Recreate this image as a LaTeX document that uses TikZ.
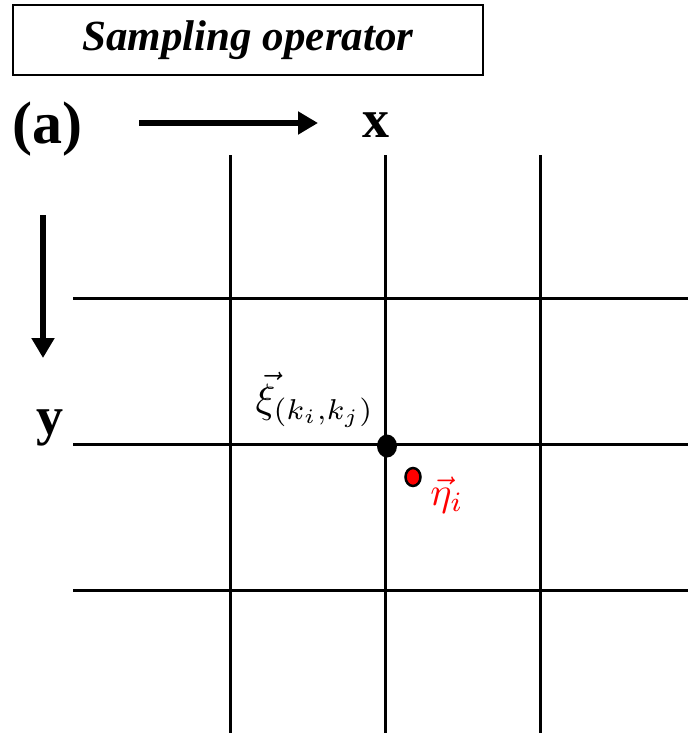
\documentclass[tikz,border=0pt]{standalone}
\usepackage{fontspec}
\setmainfont{Liberation Serif}
\usepackage{amsmath}
\usepackage{graphicx}
\usetikzlibrary{arrows.meta,shapes.geometric}
\begin{document}
\begin{tikzpicture}[x=1pt,y=-1pt,
  gridline/.style={line width=3pt},
  axisarrow/.style={line width=6pt,-{Triangle[length=20pt,width=22pt]}},
  boldlabel/.style={font=\fontsize{54}{54}\selectfont\bfseries,inner sep=0pt}]
\useasboundingbox (0,0) rectangle (688,733);
% title
\node[draw,line width=1.2pt,minimum width=470pt,minimum height=70pt,inner sep=0pt,
  font=\fontsize{43}{43}\selectfont\bfseries\itshape] (title) at (248,40) {Sampling operator};
\node[font=\fontsize{60}{60}\selectfont\bfseries,inner sep=0pt,anchor=west] (a) at (12,129) {(a)};
% axes
\coordinate (xs) at (139,123);
\coordinate (xe) at (318,123);
\draw[axisarrow] (xs) -- (xe);
\node[boldlabel] (xl) at (376,125) {x};
\coordinate (ys) at (43,215);
\coordinate (ye) at (43,358);
\draw[axisarrow] (ys) -- (ye);
\node[boldlabel] (yl) at (50,428) {y};
% grid
\foreach \x/\n in {230/v1,385/v2,540/v3}{
  \coordinate (\n t) at (\x,155);
  \coordinate (\n b) at (\x,733);
  \draw[gridline] (\n t) -- (\n b);
}
\foreach \y/\n in {298/h1,444/h2,590/h3}{
  \coordinate (\n l) at (73,\y);
  \coordinate (\n r) at (688,\y);
  \draw[gridline] (\n l) -- (\n r);
}
% points
\node[ellipse,fill=black,minimum width=20pt,minimum height=23pt,inner sep=0pt] (xi) at (387,446) {};
\node[ellipse,fill=red,draw=black,line width=2.5pt,minimum width=15pt,minimum height=18pt,inner sep=0pt] (eta) at (413,477) {};
\node[inner sep=0pt] (xil) at (315,400) {\scalebox{4.1}{$\vec{\xi}_{(k_i,k_j)}$}};
\node[inner sep=0pt,text=red] (etal) at (447,495) {\scalebox{4.0}{$\vec{\eta}_i$}};
\end{tikzpicture}
\end{document}
